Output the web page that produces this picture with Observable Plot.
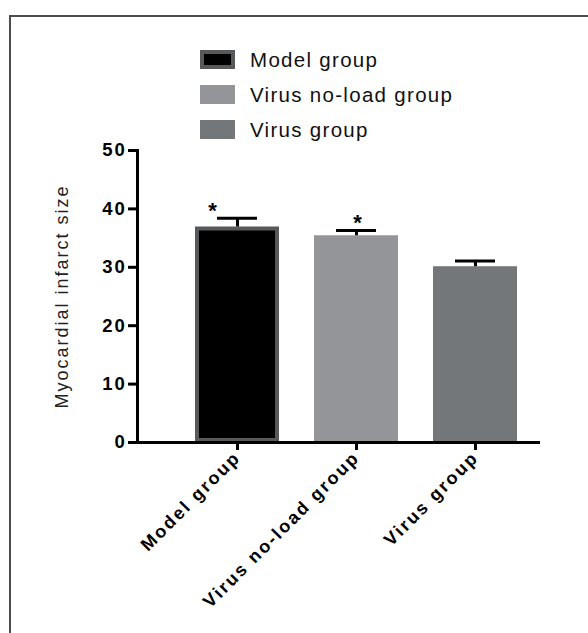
<!DOCTYPE html>
<html>
<head>
<meta charset="utf-8">
<script src="https://cdn.jsdelivr.net/npm/d3@7"></script>
<script src="https://cdn.jsdelivr.net/npm/@observablehq/plot@0.6"></script>
<style>
  html, body { margin: 0; padding: 0; background: #fff; }
  body { width: 588px; height: 633px; overflow: hidden; position: relative; font-family: "Liberation Sans", Arial, sans-serif; }
  #frame { position: absolute; left: 9px; top: 15px; width: 620px; height: 660px; border: 2px solid #4d4d4d; box-sizing: border-box; pointer-events: none; }
  #legend { position: relative; height: 140px; }
  .row { position: absolute; left: 200px; height: 19px; display: flex; align-items: center; }
  .sw { width: 35px; height: 19px; box-sizing: border-box; }
  .lab { margin-left: 15px; font-size: 20.5px; letter-spacing: 1.3px; color: #111; white-space: nowrap; line-height: 19px; }
  #chart svg { display: block; overflow: visible; }
</style>
</head>
<body>
<div id="legend"></div>
<div id="chart"></div>
<div id="frame"></div>
<script>
// ---- data ----
const groups = ["Model group", "Virus no-load group", "Virus group"];
const values = [36.9, 35.4, 30.1];
const errors = [1.5, 0.9, 1.0];
const starred = ["Model group", "Virus no-load group"];
const yTicks = [0, 10, 20, 30, 40, 50];
const yTitle = "Myocardial infarct size";

// ---- styles ----
const fillOf = {"Model group": "#000000", "Virus no-load group": "#939598", "Virus group": "#747779"};
const strokeOf = {"Model group": "#58595b"};

const data = groups.map((g, i) => ({group: g, value: values[i], err: errors[i], top: values[i] + errors[i]}));

// legend
const legend = document.getElementById("legend");
const rowTops = [50, 85, 120];
groups.forEach((g, i) => {
  const row = document.createElement("div");
  row.className = "row";
  row.style.top = rowTops[i] + "px";
  const sw = document.createElement("div");
  sw.className = "sw";
  sw.style.background = fillOf[g];
  if (strokeOf[g]) sw.style.border = "4px solid " + strokeOf[g];
  const lab = document.createElement("div");
  lab.className = "lab";
  lab.textContent = g;
  row.appendChild(sw);
  row.appendChild(lab);
  legend.appendChild(row);
});

const chart = Plot.plot({
  width: 588,
  height: 493,
  marginLeft: 137,
  marginRight: 48,
  marginTop: 10,
  marginBottom: 191,
  style: {fontFamily: "'Liberation Sans', Arial, sans-serif", color: "#000", background: "transparent", overflow: "visible"},
  x: {type: "band", domain: groups, paddingInner: 0.294, paddingOuter: 0.34, align: 0.716},
  y: {domain: [0, 50]},
  marks: [
    Plot.barY(data.filter(d => strokeOf[d.group]), {x: "group", y: "value", fill: d => fillOf[d.group], stroke: d => strokeOf[d.group], strokeWidth: 4, inset: 2}),
    Plot.barY(data.filter(d => !strokeOf[d.group]), {x: "group", y: "value", fill: d => fillOf[d.group]}),
    Plot.ruleX(data, {x: "group", y1: "value", y2: "top", stroke: "#000", strokeWidth: 3}),
    Plot.tickY(data, {x: "group", y: "top", stroke: "#000", strokeWidth: 3, insetLeft: 22, insetRight: 22}),
    Plot.text(data.filter(d => d.group === starred[0]), {x: "group", y: "top", text: () => "*", fontSize: 22, fontWeight: "bold", dy: -7, dx: -24}),
    Plot.text(data.filter(d => d.group === starred[1]), {x: "group", y: "top", text: () => "*", fontSize: 22, fontWeight: "bold", dy: -8, dx: 2}),
    Plot.ruleY([0], {stroke: "#000", strokeWidth: 3}),
    Plot.frame({anchor: "left", stroke: "#000", strokeWidth: 3}),
    Plot.axisY({ticks: yTicks, tickSize: 9, strokeWidth: 3, tickPadding: 2, fontSize: 18.5, fontWeight: "bold", label: null}),
    Plot.axisX({tickSize: 8, strokeWidth: 3, tickPadding: 4, tickRotate: -45, fontSize: 18, fontWeight: "bold", label: null}),
    Plot.text([yTitle], {frameAnchor: "left", textAnchor: "middle", rotate: -90, dx: -75, fontSize: 18, fill: "#222"})
  ]
});
d3.select(chart).selectAll('g[aria-label="y-axis tick label"] text').style("letter-spacing", "1.8px");
d3.select(chart).selectAll('g[aria-label="x-axis tick label"] text').style("letter-spacing", "2.2px");
d3.select(chart).selectAll('g[aria-label="text"] text').style("letter-spacing", "2px");
document.getElementById("chart").appendChild(chart);
</script>
</body>
</html>
